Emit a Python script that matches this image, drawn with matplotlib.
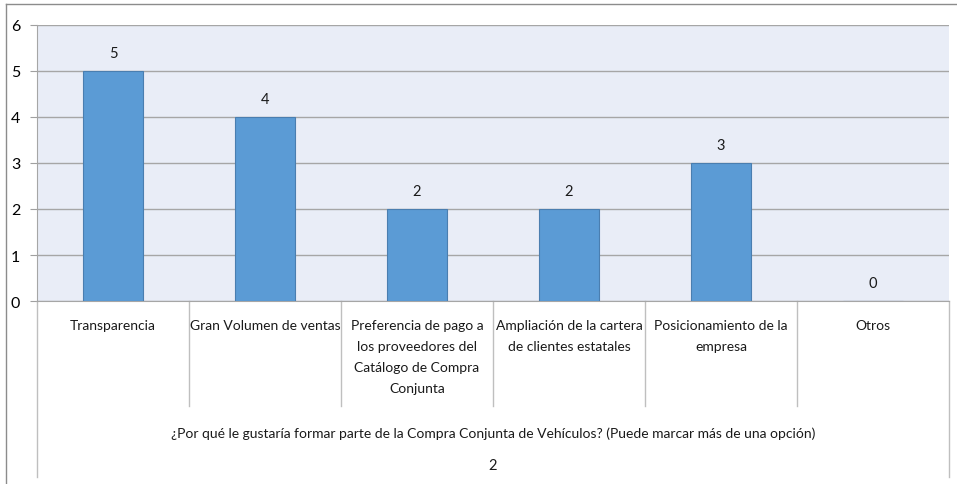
import numpy as np
import matplotlib
matplotlib.use("Agg")
import matplotlib.pyplot as plt
from matplotlib.transforms import blended_transform_factory

plt.rcParams['font.family'] = ['Lato', 'DejaVu Sans']

# Datos
categorias = [
    "Transparencia",
    "Gran Volumen de ventas",
    "Preferencia de pago a\nlos proveedores del\nCatálogo de Compra\nConjunta",
    "Ampliación de la cartera\nde clientes estatales",
    "Posicionamiento de la\nempresa",
    "Otros",
]
valores = [5, 4, 2, 2, 3, 0]
titulo_eje = "¿Por qué le gustaría formar parte de la Compra Conjunta de Vehículos? (Puede marcar más de una opción)"
etiqueta_serie = "2"
ticks_y = [0, 1, 2, 3, 4, 5, 6]

W, H = 957, 485
fig = plt.figure(figsize=(W / 100, H / 100), dpi=100)

# Área del gráfico en píxeles
x0, x1, ytop, ybot = 37, 949, 26, 302
ax = fig.add_axes([x0 / W, (H - ybot) / H, (x1 - x0) / W, (ybot - ytop) / H])
ax.set_facecolor("#E9EDF7")

fs = 10
x = np.arange(len(categorias))
ax.bar(x, valores, width=0.4, color="#5B9BD5", edgecolor="#4A7EB0", linewidth=0.8, zorder=3)
for xi, v in zip(x, valores):
    ax.annotate(str(v), (xi, v), xytext=(0, 8), textcoords="offset points",
                ha="center", va="bottom", fontsize=fs + 0.5, color="#1a1a1a")

ax.set_xlim(-0.5, len(categorias) - 0.5)
ax.set_ylim(0, 6)
ax.set_yticks(ticks_y)
ax.set_yticklabels([str(t) for t in ticks_y], fontsize=fs + 1.5)
ax.tick_params(axis="y", length=5, color="#A0A0A0", pad=7)
ax.set_xticks([])
ax.grid(axis="y", color="#A6A6A6", linewidth=1, zorder=1)
for s in ["top", "right"]:
    ax.spines[s].set_visible(False)
ax.spines["left"].set_color("#A6A6A6")
ax.spines["bottom"].set_color("#A6A6A6")

# Tabla de categorías bajo el eje
tr = blended_transform_factory(ax.transData, ax.transAxes)
h_px = ybot - ytop
sep_bottom = -(407 - ybot) / h_px
outer_bottom = -(478 - ybot) / h_px
for xs in np.arange(0.5, len(categorias) - 1, 1.0):
    ax.plot([xs, xs], [0, sep_bottom], transform=tr, color="#BFBFBF", lw=1, clip_on=False)
for xs in [-0.5, len(categorias) - 0.5]:
    ax.plot([xs, xs], [0, outer_bottom], transform=tr, color="#BFBFBF", lw=1, clip_on=False)

label_top = -(320 - ybot) / h_px
for xi, lab in zip(x, categorias):
    ax.text(xi, label_top, lab, transform=tr, ha="center", va="top",
            fontsize=fs, linespacing=1.9, color="#1a1a1a")

ax.text(0.5, -(434 - ybot) / h_px, titulo_eje, transform=ax.transAxes,
        ha="center", va="center", fontsize=fs, color="#1a1a1a")
ax.text(0.5, -(466 - ybot) / h_px, etiqueta_serie, transform=ax.transAxes,
        ha="center", va="center", fontsize=fs + 0.5, color="#1a1a1a")

# Borde de la figura
fig.add_artist(plt.Line2D([6 / W, 1], [1 - 5 / H, 1 - 5 / H], color="#8C8C8C", lw=1))
fig.add_artist(plt.Line2D([6 / W, 6 / W], [0, 1 - 5 / H], color="#8C8C8C", lw=1))

fig.savefig("out.png", dpi=100)
